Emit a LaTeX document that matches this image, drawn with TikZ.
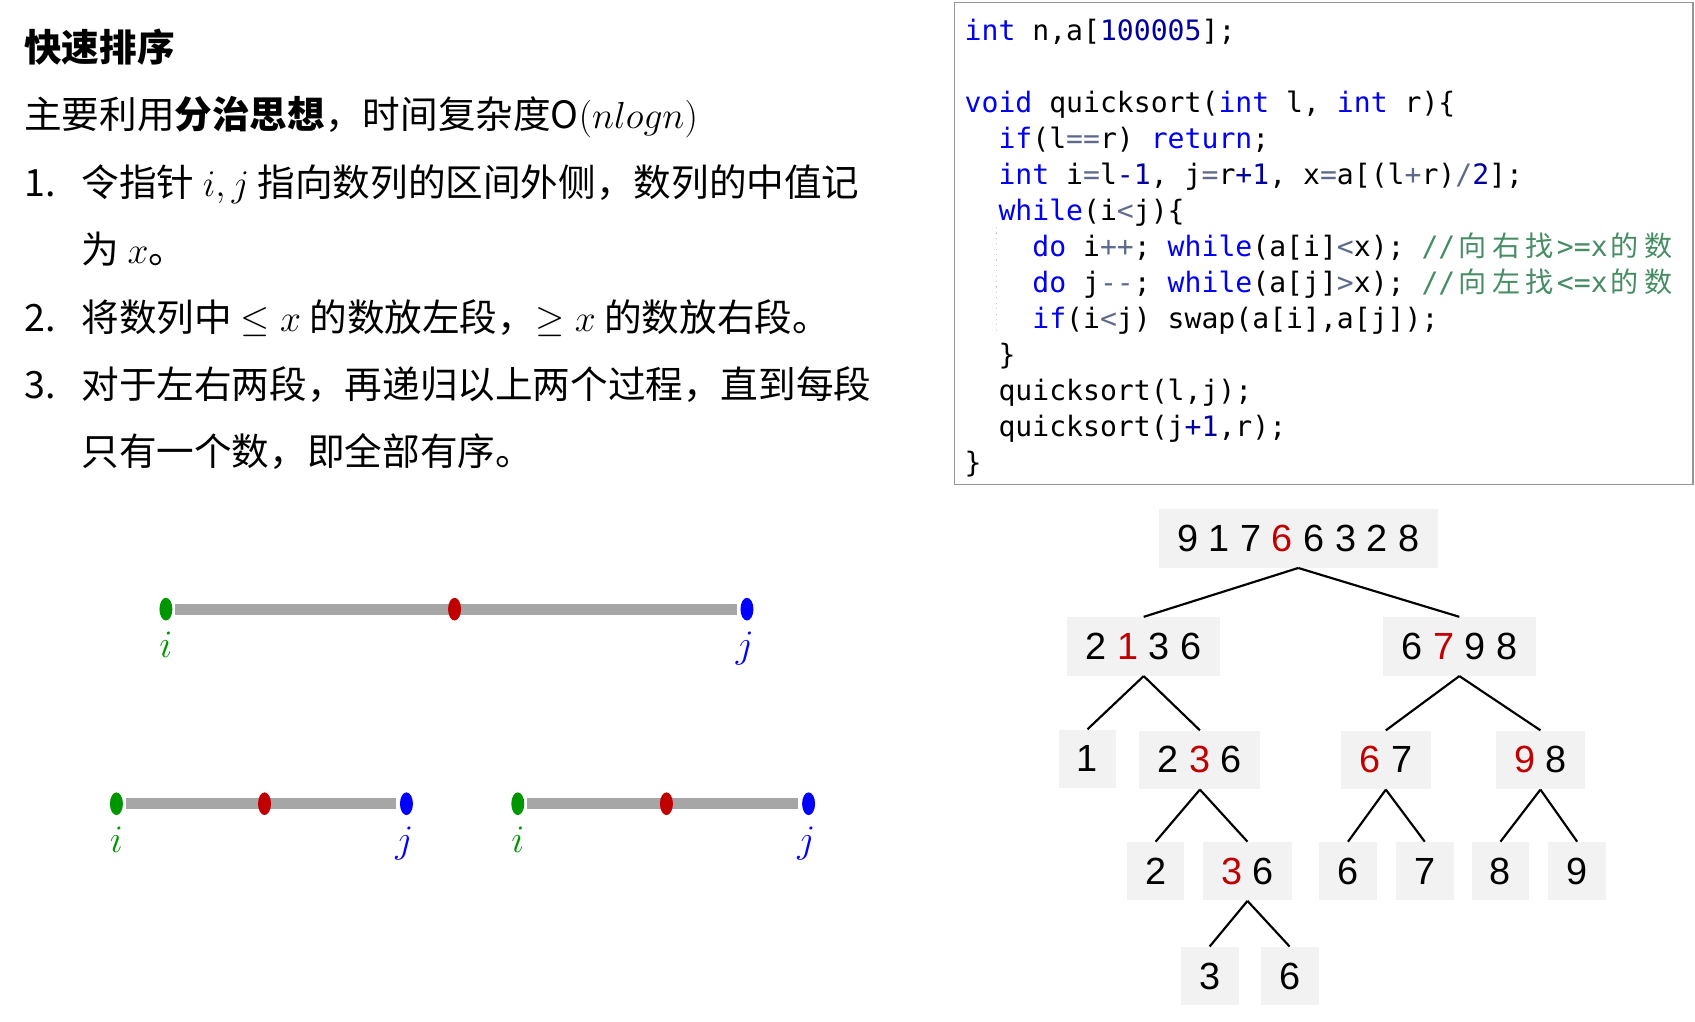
\RequirePackage{fix-cm}
\documentclass[tikz,border=0pt]{standalone}
\usepackage{fontspec}
\setmonofont{DejaVu Sans Mono}
\newfontfamily\cjk{Noto Sans CJK SC}
\newfontfamily\digitfont{Liberation Sans}
\usetikzlibrary{positioning}
\usetikzlibrary{shapes.geometric}

\definecolor{ptgreen}{RGB}{0,150,0}
\definecolor{ptred}{RGB}{192,0,0}
\definecolor{ptblue}{RGB}{0,0,255}
\definecolor{bargray}{RGB}{166,166,166}
\definecolor{boxgray}{RGB}{242,242,242}
\definecolor{codekw}{RGB}{0,0,245}
\definecolor{codenum}{RGB}{0,0,160}
\definecolor{codeop}{RGB}{95,105,140}
\definecolor{codecmt}{RGB}{70,140,100}
\definecolor{frameline}{RGB}{150,150,150}

\newcommand\kw[1]{\textcolor{codekw}{#1}}
\newcommand\nm[1]{\textcolor{codenum}{#1}}
\newcommand\op[1]{\textcolor{codeop}{#1}}
\newcommand\cmt[1]{\textcolor{codecmt}{#1}}
\newcommand\zh[1]{\makebox[1.204em]{\cjk #1}}
\newcommand\indlvl{\hspace*{1.204em}}
\newcommand\pv[1]{\textcolor{ptred}{#1}}

\tikzset{
  txt/.style={anchor=base west, inner sep=0pt, font=\cjk\fontsize{17.4}{17.4}\selectfont},
  codeline/.style={anchor=base west, inner sep=0pt, font=\ttfamily\fontsize{13}{13}\selectfont},
  bar/.style={line width=5pt, color=bargray, shorten <=1pt, shorten >=1.5pt},
  ptdot/.style={ellipse, fill=#1, minimum width=6pt, minimum height=10.5pt, inner sep=0pt},
  ptlabel/.style={text=#1, inner sep=0pt, font=\fontsize{18}{18}\selectfont},
  tbox/.style={fill=boxgray, inner xsep=8.5pt, inner ysep=0pt, minimum height=27pt,
    font=\digitfont\fontsize{17.5}{17.5}\selectfont},
  tedge/.style={line width=1pt},
}

\begin{document}
\begin{tikzpicture}[x=0.5pt, y=-0.5pt]

    \useasboundingbox (0,0) rectangle (1568,944.5);

    % text on the left
    \node[txt] (title) at (22,57) {\bfseries 快速排序};
    \node[txt] (intro) at (22,119) {主要利用{\bfseries 分治思想}，时间复杂度O$(nlogn)$};
    \node[txt] (item1) at (22,182) {\makebox[26.5pt][l]{1.}令指针 $i,j$ 指向数列的区间外侧，数列的中值记};
    \node[txt] (item1b) at (75,244) {为 $x$。};
    \node[txt] (item2) at (22,307) {\makebox[26.5pt][l]{2.}将数列中 $\le x$ 的数放左段，$\ge x$ 的数放右段。};
    \node[txt] (item3) at (22,369) {\makebox[26.5pt][l]{3.}对于左右两段，再递归以上两个过程，直到每段};
    \node[txt] (item3b) at (75,431) {只有一个数，即全部有序。};

    % code
    \draw[frameline, line width=0.6pt] (883,2) rectangle (1566,448);
    \coordinate (guidetop) at (922,210);
    \coordinate (guidebot) at (922,308);
    \draw[gray!45, dotted, line width=0.5pt] (guidetop) -- (guidebot);

    \node[codeline] (c1) at (892,37) {\kw{int} n,a[\nm{100005}];};
    \node[codeline] (c3) at (892,103.7) {\kw{void} quicksort(\kw{int} l, \kw{int} r)\{};
    \node[codeline] (c4) at (892,137) {\indlvl\kw{if}(l\op{==}r) \kw{return};};
    \node[codeline] (c5) at (892,170.3) {\indlvl\kw{int} i\op{=}l\nm{-1}, j\op{=}r\nm{+1}, x\op{=}a[(l\op{+}r)\op{/}\nm{2}];};
    \node[codeline] (c6) at (892,203.7) {\indlvl\kw{while}(i\op{<}j)\{};
    \node[codeline] (c7) at (892,237) {\indlvl\indlvl\kw{do} i\op{++}; \kw{while}(a[i]\op{<}x); \cmt{//\zh{向}\zh{右}\zh{找}>=x\zh{的}\zh{数}}};
    \node[codeline] (c8) at (892,270.3) {\indlvl\indlvl\kw{do} j\op{-{}-}; \kw{while}(a[j]\op{>}x); \cmt{//\zh{向}\zh{左}\zh{找}<=x\zh{的}\zh{数}}};
    \node[codeline] (c9) at (892,303.7) {\indlvl\indlvl\kw{if}(i\op{<}j) swap(a[i],a[j]);};
    \node[codeline] (c10) at (892,337) {\indlvl\}};
    \node[codeline] (c11) at (892,370.3) {\indlvl quicksort(l,j);};
    \node[codeline] (c12) at (892,403.7) {\indlvl quicksort(j\nm{+1},r);};
    \node[codeline] (c13) at (892,437) {\}};

    % pointers
    \node[ptdot=ptgreen] (i1) at (153.5,563.5) {};
    \node[ptdot=ptblue] (j1) at (691,563.5) {};
    \draw[bar] (i1.east) -- (j1.west);
    \node[ptdot=ptred] (m1) at (420.5,563.5) {};

    \node[ptdot=ptgreen] (i2) at (107.7,743.5) {};
    \node[ptdot=ptblue] (j2) at (376,743.5) {};
    \draw[bar] (i2.east) -- (j2.west);
    \node[ptdot=ptred] (m2) at (244.7,743.5) {};

    \node[ptdot=ptgreen] (i3) at (479,743.5) {};
    \node[ptdot=ptblue] (j3) at (748,743.5) {};
    \draw[bar] (i3.east) -- (j3.west);
    \node[ptdot=ptred] (m3) at (616.5,743.5) {};

    \node[ptlabel=ptgreen, below=17pt of i1, anchor=base] (li1) {$i$};
    \node[ptlabel=ptblue, below=17pt of j1, anchor=base, xshift=-1pt] (lj1) {$j$};
    \node[ptlabel=ptgreen, below=17pt of i2, anchor=base] (li2) {$i$};
    \node[ptlabel=ptblue, below=17pt of j2, anchor=base, xshift=-1pt] (lj2) {$j$};
    \node[ptlabel=ptgreen, below=17pt of i3, anchor=base] (li3) {$i$};
    \node[ptlabel=ptblue, below=17pt of j3, anchor=base, xshift=-1pt] (lj3) {$j$};

    % recursion tree
    \node[tbox] (root) at (1201,498) {9 1 7 \pv{6} 6 3 2 8};
    \node[tbox] (L) at (1058,598) {2 \pv{1} 3 6};
    \node[tbox] (R) at (1350,598) {6 \pv{7} 9 8};
    \node[tbox] (LL) at (1006,702) {1};
    \node[tbox] (LR) at (1110,703) {2 \pv{3} 6};
    \node[tbox] (RL) at (1282,703) {\pv{6} 7};
    \node[tbox] (RR) at (1425,703) {\pv{9} 8};
    \node[tbox] (LRL) at (1069,806) {2};
    \node[tbox] (LRR) at (1154,806) {\pv{3} 6};
    \node[tbox] (RLL) at (1247,806) {6};
    \node[tbox] (RLR) at (1318,806) {7};
    \node[tbox] (RRL) at (1388,806) {8};
    \node[tbox] (RRR) at (1459,806) {9};
    \node[tbox] (LRRL) at (1119,903) {3};
    \node[tbox] (LRRR) at (1193,903) {6};

    \draw[tedge] (root.south) -- (L.north);
    \draw[tedge] (root.south) -- (R.north);
    \draw[tedge] (L.south) -- (LL.north);
    \draw[tedge] (L.south) -- (LR.north);
    \draw[tedge] (R.south) -- (RL.north);
    \draw[tedge] (R.south) -- (RR.north);
    \draw[tedge] (LR.south) -- (LRL.north);
    \draw[tedge] (LR.south) -- (LRR.north);
    \draw[tedge] (RL.south) -- (RLL.north);
    \draw[tedge] (RL.south) -- (RLR.north);
    \draw[tedge] (RR.south) -- (RRL.north);
    \draw[tedge] (RR.south) -- (RRR.north);
    \draw[tedge] (LRR.south) -- (LRRL.north);
    \draw[tedge] (LRR.south) -- (LRRR.north);

\end{tikzpicture}
\end{document}
